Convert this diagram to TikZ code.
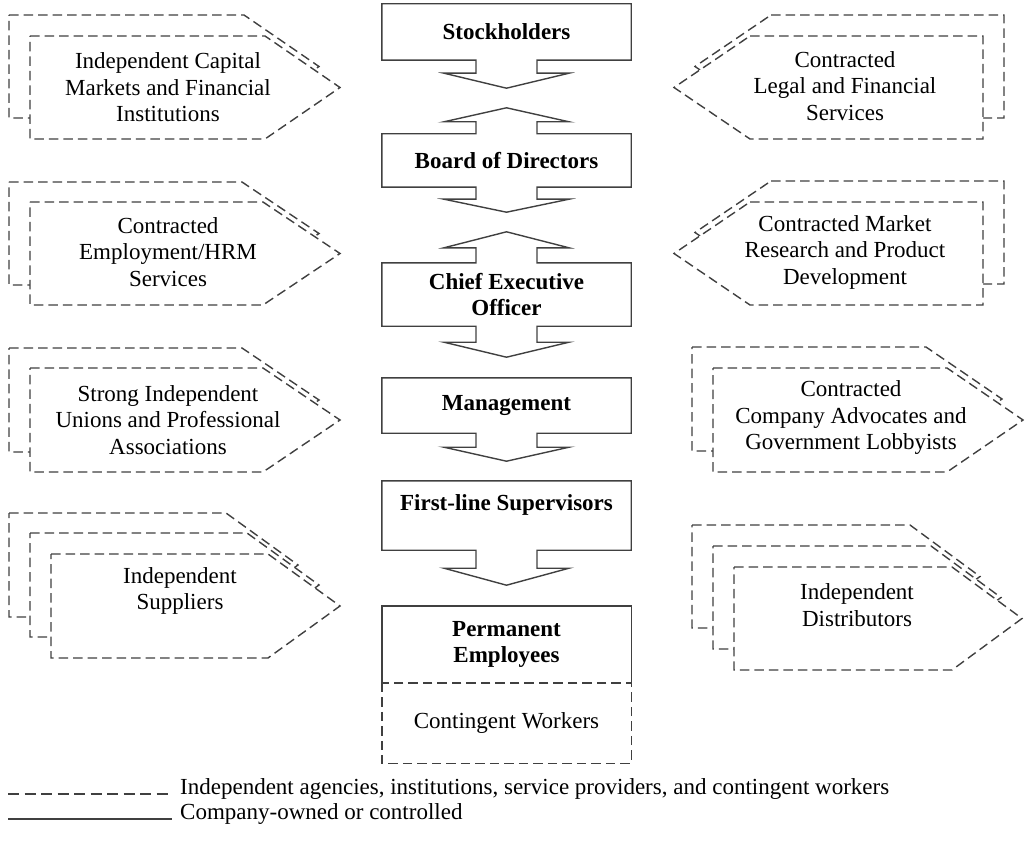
\documentclass[tikz,border=0pt]{standalone}
\usepackage{fontspec}
\setmainfont{Liberation Serif}
\usetikzlibrary{calc}
\definecolor{ink}{HTML}{404040}

\tikzset{
  x=1pt, y=1pt,
  solidline/.style={draw=ink, line width=1.4pt, line join=miter},
  dashline/.style={draw=ink, line width=1.4pt, dash pattern=on 9.5pt off 5pt, fill=white, line join=miter},
  corebox/.style={minimum width=249pt, inner sep=0pt, align=center,
    font=\fontsize{23}{26.5}\selectfont\bfseries},
  lbl/.style={inner sep=0pt, align=center, font=\fontsize{23}{26.5}\selectfont},
  legendtext/.style={inner sep=0pt, anchor=base west, font=\fontsize{23}{26.5}\selectfont},
}

% box with a downward block arrow under it: node, stem length, head depth
\newcommand\drawdown[3]{%
  \draw[solidline] (#1.north west) -- (#1.north east) -- (#1.south east)
    -- ([xshift=30.5pt]#1.south) -- ++(0,-#2) -- ++(32,0)
    -- ([yshift={-(#2+#3)}]#1.south) -- ++(-62.5,#3) -- ++(32,0)
    -- ([xshift=-30.5pt]#1.south) -- (#1.south west) -- cycle;}

% box with block arrows above and below: node, up stem, up head, down stem, down head
\newcommand\drawboth[5]{%
  \draw[solidline] (#1.north west)
    -- ([xshift=-30.5pt]#1.north) -- ++(0,#2) -- ++(-32,0)
    -- ([yshift={#2+#3}]#1.north) -- ++(62.5,-#3) -- ++(-32,0)
    -- ([xshift=30.5pt]#1.north) -- (#1.north east) -- (#1.south east)
    -- ([xshift=30.5pt]#1.south) -- ++(0,-#4) -- ++(32,0)
    -- ([yshift={-(#4+#5)}]#1.south) -- ++(-62.5,#5) -- ++(32,0)
    -- ([xshift=-30.5pt]#1.south) -- (#1.south west) -- cycle;}

% dashed tag pointing right: left x, top y, body width, height, point length
\newcommand\tagright[5]{%
  \draw[dashline] (#1,-#2) -- ++(#3,0) -- ++(#5,{-#4/2}) -- ++({-#5},{-#4/2})
    -- ++({-#3},0) -- cycle;}

% dashed tag pointing left: body left x, top y, body width, height, point length
\newcommand\tagleft[5]{%
  \draw[dashline] (#1,-#2) -- ++(#3,0) -- ++(0,{-#4}) -- ++({-#3},0)
    -- ++({-#5},{#4/2}) -- cycle;}

\begin{document}
\begin{tikzpicture}
\useasboundingbox (0,0) rectangle (1026,-856);

% ---- company hierarchy ----
\node[corebox, minimum height=56pt] (stk)  at (506.5,-32)    {Stockholders};
\node[corebox, minimum height=53pt] (bod)  at (506.5,-160.5) {Board of Directors};
\node[corebox, minimum height=63pt] (ceo)  at (506.5,-294.5) {Chief Executive\\Officer};
\node[corebox, minimum height=55pt] (mgt)  at (506.5,-405.5) {Management};
\node[corebox, minimum height=69pt] (flsv) at (506.5,-515.5) {First-line Supervisors\\\mbox{}};
\node[corebox, minimum height=77pt] (perm) at (506.5,-644.5) {Permanent\\Employees};
\node[corebox, minimum height=80pt, font=\fontsize{23}{26.5}\selectfont] (cont) at (506.5,-723) {Contingent Workers};

\drawdown{stk}{13}{15}
\drawboth{bod}{12}{14}{12}{13}
\drawboth{ceo}{15}{16}{16}{15}
\drawdown{mgt}{14}{14}
\drawdown{flsv}{18}{17}
\draw[solidline] (perm.south west) -- (perm.north west) -- (perm.north east) -- (perm.south east);
\draw[dashline, fill=none] (cont.north west) rectangle (cont.south east);

% ---- outside parties, left ----
\tagright{9}{15}{235}{103}{75}
\tagright{30}{36}{235}{103}{75}
\node[lbl] (capital) at (168,-87.5) {Independent Capital\\Markets and Financial\\Institutions};

\tagright{9}{182}{233}{103}{77}
\tagright{30}{202}{233}{103}{77}
\node[lbl] (hrm) at (168,-252) {Contracted\\Employment/HRM\\Services};

\tagright{9}{348}{233}{104}{77}
\tagright{30}{368}{233}{104}{77}
\node[lbl] (unions) at (168,-420) {Strong Independent\\Unions and Professional\\Associations};

\tagright{9}{513}{217}{104}{72}
\tagright{30}{533}{217}{104}{72}
\tagright{51}{554}{217}{104}{72}
\node[lbl] (suppliers) at (180,-591) {Independent\\Suppliers};

% ---- outside parties, right ----
\tagleft{771}{15}{233}{103}{76}
\tagleft{750}{36}{233}{103}{76}
\node[lbl] (legal) at (845,-86) {Contracted\\Legal and Financial\\Services};

\tagleft{771}{181}{233}{103}{76}
\tagleft{750}{202}{233}{103}{76}
\node[lbl] (market) at (845,-252) {Contracted Market\\Research and Product\\Development};

\tagright{692}{347}{234}{104}{76}
\tagright{713}{368}{234}{104}{76}
\node[lbl] (lobby) at (851,-418) {Contracted\\Company Advocates and\\Government Lobbyists};

\tagright{692}{525}{218}{103}{70}
\tagright{713}{546}{218}{103}{70}
\tagright{734}{567}{218}{103}{70}
\node[lbl] (distrib) at (857,-605) {Independent\\Distributors};

% ---- legend ----
\coordinate (ldA) at (8,-794);
\coordinate (ldB) at (172,-794);
\coordinate (lsA) at (8,-819);
\coordinate (lsB) at (172,-819);
\draw[draw=ink, line width=1.4pt, dash pattern=on 11pt off 5.5pt] (ldA) -- (ldB);
\draw[draw=ink, line width=1.4pt] (lsA) -- (lsB);
\node[legendtext] (leg1) at (180,-794) {Independent agencies, institutions, service providers, and contingent workers};
\node[legendtext] (leg2) at (180,-819) {Company-owned or controlled};
\end{tikzpicture}
\end{document}
